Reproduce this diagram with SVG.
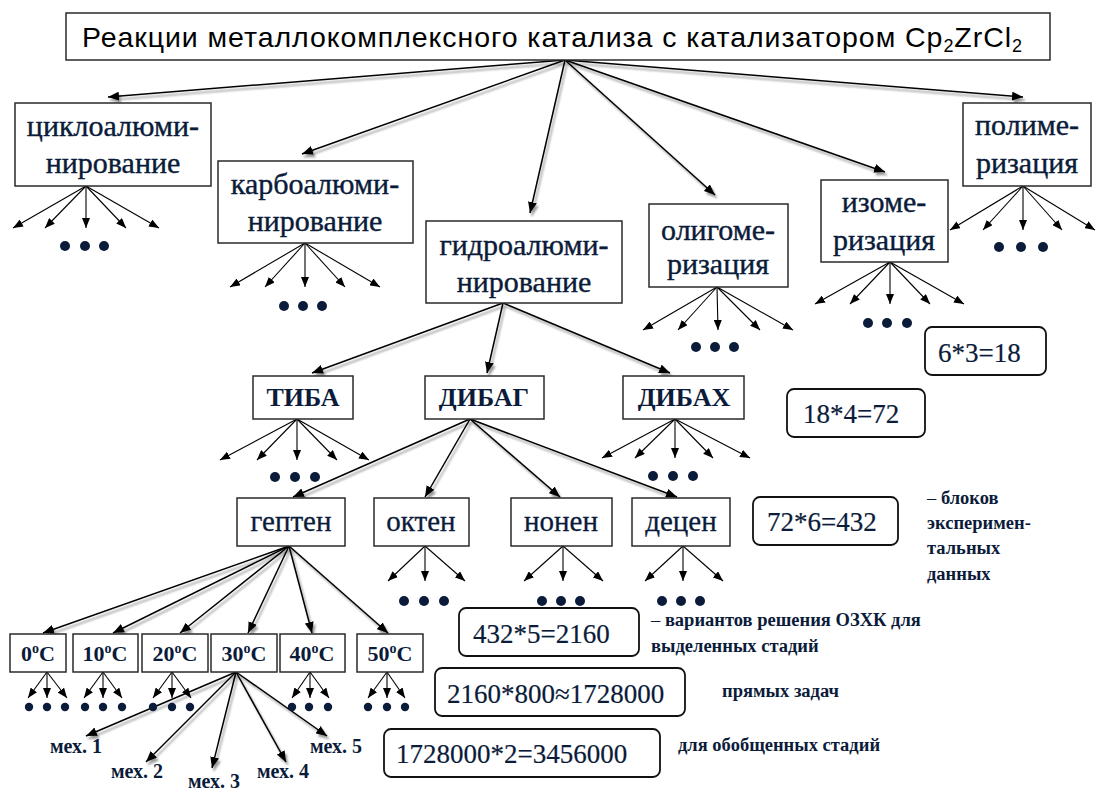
<svg xmlns="http://www.w3.org/2000/svg" width="1097" height="798" viewBox="0 0 1097 798">
<defs>
<style>
.box{fill:#fff;stroke:#2a2a2a;stroke-width:1.5}
.rbox{fill:#fff;stroke:#111;stroke-width:1.8}
.t1{font-family:"Liberation Serif","Times New Roman",serif;font-size:30px;fill:#0b1b3a;stroke:#0b1b3a;stroke-width:0.4;text-anchor:middle}
.t2{font-family:"Liberation Serif","Times New Roman",serif;font-size:26px;font-weight:bold;fill:#0b1b3a;text-anchor:middle}
.t3{font-family:"Liberation Serif","Times New Roman",serif;font-size:29px;fill:#0b1b3a;stroke:#0b1b3a;stroke-width:0.3;text-anchor:middle}
.t4{font-family:"Liberation Serif","Times New Roman",serif;font-size:22px;font-weight:bold;fill:#0b1b3a;text-anchor:middle}
.num{font-family:"Liberation Serif","Times New Roman",serif;font-size:27px;fill:#0b1b3a;stroke:#0b1b3a;stroke-width:0.2}
.ann{font-family:"Liberation Serif","Times New Roman",serif;font-size:18.5px;font-weight:bold;fill:#0b1b3a}
.mex{font-family:"Liberation Serif","Times New Roman",serif;font-size:20px;font-weight:bold;fill:#0b1b3a}
.big{stroke:#000;stroke-width:1.5;fill:none;marker-end:url(#ah)}
.sm{stroke:#000;stroke-width:1.1;fill:none;marker-end:url(#as)}
.dot{fill:#0b1b3a}
</style>
<marker id="ah" markerUnits="userSpaceOnUse" markerWidth="11" markerHeight="9" refX="11" refY="4.5" orient="auto"><path d="M0,0 L11,4.5 L0,9 z" fill="#000"/></marker>
<marker id="as" markerUnits="userSpaceOnUse" markerWidth="10" markerHeight="8" refX="10" refY="4" orient="auto"><path d="M0,0 L10,4 L0,8 z" fill="#000"/></marker>
<filter id="sh" filterUnits="userSpaceOnUse" x="0" y="0" width="1097" height="798">
<feGaussianBlur in="SourceAlpha" stdDeviation="1.3"/>
<feOffset dx="2" dy="3" result="o"/>
<feComponentTransfer><feFuncA type="linear" slope="0.4"/></feComponentTransfer>
<feMerge><feMergeNode/><feMergeNode in="SourceGraphic"/></feMerge>
</filter>
</defs>
<rect width="1097" height="798" fill="#fff"/>

<g id="connectors">
<g filter="url(#sh)">
<line class="big" x1="565" y1="60" x2="108" y2="97"/>
<line class="big" x1="565" y1="60" x2="302" y2="154"/>
<line class="big" x1="565" y1="60" x2="530" y2="213"/>
<line class="big" x1="565" y1="60" x2="715" y2="195"/>
<line class="big" x1="565" y1="60" x2="885" y2="172"/>
<line class="big" x1="565" y1="60" x2="1023" y2="97"/>
<line class="big" x1="503" y1="303" x2="312" y2="373"/>
<line class="big" x1="503" y1="303" x2="487" y2="373"/>
<line class="big" x1="503" y1="303" x2="670" y2="373"/>
<line class="big" x1="470" y1="419" x2="293" y2="497"/>
<line class="big" x1="470" y1="419" x2="425" y2="497"/>
<line class="big" x1="470" y1="419" x2="560" y2="497"/>
<line class="big" x1="470" y1="419" x2="677" y2="497"/>
<line class="big" x1="289" y1="546" x2="43" y2="633"/>
<line class="big" x1="289" y1="546" x2="113" y2="633"/>
<line class="big" x1="289" y1="546" x2="180" y2="633"/>
<line class="big" x1="289" y1="546" x2="248" y2="633"/>
<line class="big" x1="289" y1="546" x2="312" y2="633"/>
<line class="big" x1="289" y1="546" x2="388" y2="633"/>
<line class="big" x1="236" y1="672" x2="86" y2="736"/>
<line class="big" x1="236" y1="672" x2="146" y2="762"/>
<line class="big" x1="236" y1="672" x2="212" y2="768"/>
<line class="big" x1="236" y1="672" x2="286" y2="762"/>
<line class="big" x1="236" y1="672" x2="327" y2="736"/>
</g>
<g>
<line class="sm" x1="86" y1="186" x2="13" y2="228"/><line class="sm" x1="86" y1="186" x2="45" y2="228"/><line class="sm" x1="86" y1="186" x2="86" y2="228"/><line class="sm" x1="86" y1="186" x2="126" y2="228"/><line class="sm" x1="86" y1="186" x2="159" y2="228"/>
<line class="sm" x1="305" y1="243" x2="230" y2="287"/><line class="sm" x1="305" y1="243" x2="265" y2="287"/><line class="sm" x1="305" y1="243" x2="305" y2="287"/><line class="sm" x1="305" y1="243" x2="345" y2="287"/><line class="sm" x1="305" y1="243" x2="380" y2="287"/>
<line class="sm" x1="717" y1="287" x2="643" y2="330"/><line class="sm" x1="717" y1="287" x2="678" y2="330"/><line class="sm" x1="717" y1="287" x2="718" y2="330"/><line class="sm" x1="717" y1="287" x2="760" y2="330"/><line class="sm" x1="717" y1="287" x2="793" y2="330"/>
<line class="sm" x1="890" y1="262" x2="815" y2="304"/><line class="sm" x1="890" y1="262" x2="850" y2="304"/><line class="sm" x1="890" y1="262" x2="890" y2="304"/><line class="sm" x1="890" y1="262" x2="930" y2="304"/><line class="sm" x1="890" y1="262" x2="964" y2="304"/>
<line class="sm" x1="1023" y1="186" x2="950" y2="230"/><line class="sm" x1="1023" y1="186" x2="983" y2="230"/><line class="sm" x1="1023" y1="186" x2="1023" y2="230"/><line class="sm" x1="1023" y1="186" x2="1062" y2="230"/><line class="sm" x1="1023" y1="186" x2="1095" y2="230"/>
<line class="sm" x1="297" y1="419" x2="220" y2="460"/><line class="sm" x1="297" y1="419" x2="257" y2="460"/><line class="sm" x1="297" y1="419" x2="297" y2="460"/><line class="sm" x1="297" y1="419" x2="337" y2="460"/><line class="sm" x1="297" y1="419" x2="369" y2="460"/>
<line class="sm" x1="675" y1="419" x2="602" y2="458"/><line class="sm" x1="675" y1="419" x2="635" y2="458"/><line class="sm" x1="675" y1="419" x2="675" y2="458"/><line class="sm" x1="675" y1="419" x2="713" y2="458"/><line class="sm" x1="675" y1="419" x2="750" y2="458"/>
<line class="sm" x1="425" y1="546" x2="388" y2="581"/><line class="sm" x1="425" y1="546" x2="425" y2="581"/><line class="sm" x1="425" y1="546" x2="465" y2="581"/>
<line class="sm" x1="563" y1="546" x2="524" y2="581"/><line class="sm" x1="563" y1="546" x2="563" y2="581"/><line class="sm" x1="563" y1="546" x2="603" y2="581"/>
<line class="sm" x1="683" y1="546" x2="645" y2="581"/><line class="sm" x1="683" y1="546" x2="683" y2="581"/><line class="sm" x1="683" y1="546" x2="723" y2="581"/>
<line class="sm" x1="47" y1="672" x2="28" y2="698"/><line class="sm" x1="47" y1="672" x2="47" y2="698"/><line class="sm" x1="47" y1="672" x2="67" y2="698"/>
<line class="sm" x1="103" y1="672" x2="84" y2="698"/><line class="sm" x1="103" y1="672" x2="103" y2="698"/><line class="sm" x1="103" y1="672" x2="122" y2="698"/>
<line class="sm" x1="172" y1="672" x2="153" y2="698"/><line class="sm" x1="172" y1="672" x2="172" y2="698"/><line class="sm" x1="172" y1="672" x2="191" y2="698"/>
<line class="sm" x1="310" y1="672" x2="292" y2="698"/><line class="sm" x1="310" y1="672" x2="310" y2="698"/><line class="sm" x1="310" y1="672" x2="329" y2="698"/>
<line class="sm" x1="387" y1="672" x2="368" y2="698"/><line class="sm" x1="387" y1="672" x2="387" y2="698"/><line class="sm" x1="387" y1="672" x2="405" y2="698"/>
</g>
</g>

<g id="dots">
<circle class="dot" cx="65" cy="246" r="5"/><circle class="dot" cx="85" cy="246" r="5"/><circle class="dot" cx="104" cy="246" r="5"/>
<circle class="dot" cx="284" cy="306" r="5"/><circle class="dot" cx="303" cy="306" r="5"/><circle class="dot" cx="322" cy="306" r="5"/>
<circle class="dot" cx="696" cy="347" r="5"/><circle class="dot" cx="715" cy="347" r="5"/><circle class="dot" cx="734" cy="347" r="5"/>
<circle class="dot" cx="868" cy="323" r="5"/><circle class="dot" cx="887" cy="323" r="5"/><circle class="dot" cx="907" cy="323" r="5"/>
<circle class="dot" cx="999" cy="247" r="5"/><circle class="dot" cx="1021" cy="247" r="5"/><circle class="dot" cx="1043" cy="247" r="5"/>
<circle class="dot" cx="275" cy="477" r="5"/><circle class="dot" cx="295" cy="477" r="5"/><circle class="dot" cx="315" cy="477" r="5"/>
<circle class="dot" cx="653" cy="476" r="5"/><circle class="dot" cx="673" cy="476" r="5"/><circle class="dot" cx="693" cy="476" r="5"/>
<circle class="dot" cx="404" cy="601" r="5"/><circle class="dot" cx="424" cy="601" r="5"/><circle class="dot" cx="444" cy="601" r="5"/>
<circle class="dot" cx="542" cy="601" r="5"/><circle class="dot" cx="561" cy="601" r="5"/><circle class="dot" cx="580" cy="601" r="5"/>
<circle class="dot" cx="662" cy="601" r="5"/><circle class="dot" cx="681" cy="601" r="5"/><circle class="dot" cx="700" cy="601" r="5"/>
<circle class="dot" cx="29" cy="707" r="4.2"/><circle class="dot" cx="47" cy="707" r="4.2"/><circle class="dot" cx="65" cy="707" r="4.2"/>
<circle class="dot" cx="85" cy="707" r="4.2"/><circle class="dot" cx="103" cy="707" r="4.2"/><circle class="dot" cx="122" cy="707" r="4.2"/>
<circle class="dot" cx="153" cy="707" r="4.2"/><circle class="dot" cx="172" cy="707" r="4.2"/><circle class="dot" cx="190" cy="707" r="4.2"/>
<circle class="dot" cx="292" cy="707" r="4.2"/><circle class="dot" cx="309" cy="707" r="4.2"/><circle class="dot" cx="328" cy="707" r="4.2"/>
<circle class="dot" cx="368" cy="707" r="4.2"/><circle class="dot" cx="387" cy="707" r="4.2"/><circle class="dot" cx="405" cy="707" r="4.2"/>
</g>

<g id="title">
<rect class="box" x="66" y="13" width="984" height="47"/>
<text x="82" y="47" textLength="940" font-family="'Liberation Sans',Arial,sans-serif" font-size="28.5" fill="#000">Реакции металлокомплексного катализа с катализатором Cp<tspan font-size="18" dy="5">2</tspan><tspan dy="-5">ZrCl</tspan><tspan font-size="18" dy="5">2</tspan></text>
</g>

<g id="cyclo"><rect class="box" x="15" y="103" width="196" height="83"/><text class="t1" x="113" y="136">циклоалюми-</text><text class="t1" x="113" y="173">нирование</text></g>
<g id="carbo"><rect class="box" x="218" y="161" width="195" height="82"/><text class="t1" x="315" y="194">карбоалюми-</text><text class="t1" x="315" y="231">нирование</text></g>
<g id="hydro"><rect class="box" x="426" y="221" width="196" height="82"/><text class="t1" x="524" y="255">гидроалюми-</text><text class="t1" x="524" y="292">нирование</text></g>
<g id="oligo"><rect class="box" x="649" y="204" width="139" height="83"/><text class="t1" x="718" y="240">олигоме-</text><text class="t1" x="718" y="274">ризация</text></g>
<g id="izomer"><rect class="box" x="821" y="180" width="127" height="82"/><text class="t1" x="884" y="212">изоме-</text><text class="t1" x="884" y="250">ризация</text></g>
<g id="poly"><rect class="box" x="963" y="103" width="128" height="83"/><text class="t1" x="1027" y="135">полиме-</text><text class="t1" x="1027" y="173">ризация</text></g>

<g id="tiba"><rect class="box" x="253" y="376" width="100" height="43"/><text class="t2" x="303" y="406">ТИБА</text></g>
<g id="dibag"><rect class="box" x="425" y="376" width="119" height="43"/><text class="t2" x="484" y="406">ДИБАГ</text></g>
<g id="dibah"><rect class="box" x="623" y="376" width="121" height="43"/><text class="t2" x="684" y="406">ДИБАХ</text></g>

<g id="hepten"><rect class="box" x="237" y="498" width="108" height="48"/><text class="t3" x="291" y="531">гептен</text></g>
<g id="okten"><rect class="box" x="374" y="498" width="95" height="48"/><text class="t3" x="421" y="531">октен</text></g>
<g id="nonen"><rect class="box" x="511" y="498" width="101" height="48"/><text class="t3" x="561" y="531">нонен</text></g>
<g id="decen"><rect class="box" x="632" y="498" width="98" height="48"/><text class="t3" x="681" y="531">децен</text></g>

<g id="t0"><rect class="box" x="10" y="634" width="56" height="38"/><text class="t4" x="38" y="661">0<tspan font-size="14" dy="-8">o</tspan><tspan dy="8">C</tspan></text></g>
<g id="t10"><rect class="box" x="73" y="634" width="65" height="38"/><text class="t4" x="105" y="661">10<tspan font-size="14" dy="-8">o</tspan><tspan dy="8">C</tspan></text></g>
<g id="t20"><rect class="box" x="142" y="634" width="66" height="38"/><text class="t4" x="175" y="661">20<tspan font-size="14" dy="-8">o</tspan><tspan dy="8">C</tspan></text></g>
<g id="t30"><rect class="box" x="211" y="634" width="66" height="38"/><text class="t4" x="244" y="661">30<tspan font-size="14" dy="-8">o</tspan><tspan dy="8">C</tspan></text></g>
<g id="t40"><rect class="box" x="280" y="634" width="65" height="38"/><text class="t4" x="312" y="661">40<tspan font-size="14" dy="-8">o</tspan><tspan dy="8">C</tspan></text></g>
<g id="t50"><rect class="box" x="357" y="634" width="66" height="38"/><text class="t4" x="390" y="661">50<tspan font-size="14" dy="-8">o</tspan><tspan dy="8">C</tspan></text></g>

<g id="mech">
<text class="mex" x="50" y="753">мех. 1</text>
<text class="mex" x="111" y="778">мех. 2</text>
<text class="mex" x="188" y="788">мех. 3</text>
<text class="mex" x="257" y="778">мех. 4</text>
<text class="mex" x="310" y="753">мех. 5</text>
</g>

<g id="calc1"><rect class="rbox" x="925" y="327" width="121" height="48" rx="7"/><text class="num" x="938" y="362">6*3=18</text></g>
<g id="calc2"><rect class="rbox" x="787" y="389" width="138" height="48" rx="7"/><text class="num" x="803" y="423">18*4=72</text></g>
<g id="calc3"><rect class="rbox" x="753" y="497" width="145" height="48" rx="7"/><text class="num" x="767" y="531">72*6=432</text></g>
<g id="calc4"><rect class="rbox" x="459" y="608" width="180" height="48" rx="7"/><text class="num" x="473" y="643">432*5=2160</text></g>
<g id="calc5"><rect class="rbox" x="435" y="668" width="250" height="48" rx="7"/><text class="num" x="447" y="703">2160*800≈1728000</text></g>
<g id="calc6"><rect class="rbox" x="384" y="729" width="276" height="48" rx="7"/><text class="num" x="396" y="763">1728000*2=3456000</text></g>

<g id="notes">
<text class="ann" x="927" y="504"><tspan font-weight="normal">–</tspan> блоков</text>
<text class="ann" x="927" y="529">эксперимен-</text>
<text class="ann" x="927" y="554">тальных</text>
<text class="ann" x="927" y="580">данных</text>
<text class="ann" x="651" y="626"><tspan font-weight="normal">–</tspan> вариантов решения ОЗХК для</text>
<text class="ann" x="651" y="652">выделенных стадий</text>
<text class="ann" x="722" y="697">прямых задач</text>
<text class="ann" x="678" y="751">для обобщенных стадий</text>
</g>
</svg>
